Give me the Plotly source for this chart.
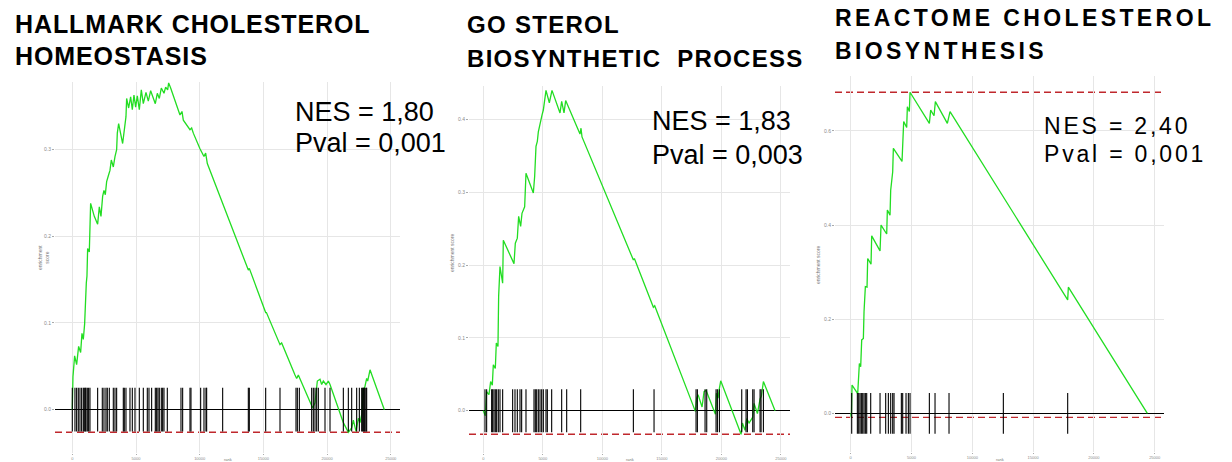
import plotly.graph_objects as go

W, H = 1232, 462

# ---------------- data ----------------
hallmark_hits = [0, 209, 340, 471, 602, 733, 864, 942, 1021, 1073, 1178, 1282, 1387, 1989,
                 2355, 2486, 2643, 2748, 2905, 3219, 3350, 3481, 4004, 4083, 4213, 4527,
                 4711, 4920, 5260, 5574, 5888, 6019, 6228, 6516, 6621, 6726, 6830, 6987,
                 7092, 7197, 7458, 8531, 8662, 9238, 9316, 10075, 10337, 10494, 10546,
                 11803, 13818, 13896, 15179, 16304, 17560, 17665, 17822, 18790, 18921,
                 19052, 19183, 19314, 19837, 20230, 21276, 21669, 21931, 22323, 22533,
                 22716, 22794, 22847, 22925, 22977, 23056, 23108]
hallmark_rank = [0, 52, 183, 340, 497, 654, 759, 864, 968, 1021, 1099, 1151, 1204, 1335, 1387,
                 1439, 1727, 1989, 2120, 2251, 2381, 2486, 2591, 2696, 2853, 2957, 3062, 3219,
                 3350, 3481, 3533, 3638, 3952, 4083, 4213, 4266, 4423, 4580, 4711, 4841, 4972,
                 5103, 5260, 5417, 5574, 5784, 5967, 6150, 6359, 6516, 6673, 6830, 6987, 7197,
                 7328, 7485, 7563, 7720, 8453, 8610, 8715, 9238, 9369, 9500, 10023, 10337,
                 10468, 10599, 13818, 13896, 15179, 15240, 16304, 16435, 17482, 17613, 17743,
                 18005, 18869, 19052, 19235, 19444, 19575, 19706, 19915, 20099, 20230, 21276,
                 21669, 21931, 22062, 22271, 22454, 22585, 22742, 22847, 22977, 23108, 23187,
                 23370, 24495]
hallmark_es = [0.0, 0.038, 0.062, 0.052, 0.073, 0.066, 0.088, 0.081, 0.099, 0.123, 0.146, 0.154,
               0.186, 0.182, 0.202, 0.238, 0.223, 0.214, 0.234, 0.223, 0.246, 0.253, 0.248,
               0.263, 0.271, 0.276, 0.288, 0.280, 0.292, 0.300, 0.319, 0.330, 0.307, 0.321,
               0.338, 0.359, 0.348, 0.361, 0.346, 0.363, 0.349, 0.362, 0.346, 0.369, 0.353,
               0.366, 0.356, 0.368, 0.359, 0.353, 0.365, 0.359, 0.371, 0.365, 0.372, 0.369,
               0.377, 0.371, 0.340, 0.344, 0.334, 0.323, 0.325, 0.319, 0.301, 0.292, 0.296,
               0.284, 0.161, 0.163, 0.112, 0.112, 0.075, 0.077, 0.040, 0.036, 0.040, 0.031,
               0.002, 0.008, 0.033, 0.035, 0.029, 0.033, 0.029, 0.033, 0.029, -0.015, -0.026,
               -0.021, -0.012, -0.025, -0.010, -0.015, -0.004, 0.023, 0.027, 0.036, 0.033,
               0.046, 0.0]

gosterol_hits = [140, 280, 700, 784, 896, 1008, 1120, 1260, 1401, 1625, 2465, 2661, 2857,
                 3081, 3221, 3585, 4258, 4370, 4482, 4622, 4762, 4902, 5042, 5266, 5378,
                 5742, 6582, 7003, 8179, 12605, 14341, 17870, 17982, 18627, 18767, 19551,
                 19663, 19831, 21708, 22072, 22184, 22632, 22744, 23248, 23332, 23528]
gosterol_rank = [0, 168, 280, 476, 616, 756, 840, 1008, 1092, 1232, 1288, 1401, 1625, 1681,
                 2577, 2689, 2857, 2969, 3137, 3249, 3473, 3585, 4202, 4314, 4426, 4538, 4622,
                 4762, 4846, 4930, 5042, 5126, 5266, 5546, 5770, 6442, 6582, 6778, 6918, 8123,
                 8207, 8291, 12605, 12689, 14285, 14397, 17814, 17926, 18038, 18374, 18542,
                 18711, 19103, 19495, 19579, 19719, 19803, 19943, 21652, 21764, 21988, 22128,
                 22324, 22632, 22744, 23024, 23248, 23360, 23528, 24509]
gosterol_es = [0.0, -0.007, 0.026, 0.022, 0.040, 0.035, 0.063, 0.058, 0.093, 0.088, 0.157,
               0.198, 0.175, 0.234, 0.202, 0.230, 0.237, 0.267, 0.253, 0.271, 0.280, 0.326,
               0.299, 0.322, 0.363, 0.370, 0.383, 0.395, 0.399, 0.406, 0.413, 0.422, 0.440,
               0.423, 0.440, 0.409, 0.425, 0.409, 0.426, 0.380, 0.388, 0.376, 0.207, 0.209,
               0.142, 0.144, -0.001, 0.017, 0.022, 0.005, 0.026, 0.028, 0.010, -0.005, 0.024,
               0.017, 0.028, 0.041, -0.0325, -0.017, -0.027, -0.011, -0.017, -0.009, 0.010,
               -0.004, 0.016, 0.020, 0.040, 0.0]

reactome_hits = [82, 548, 658, 767, 877, 987, 1096, 1206, 1316, 1645, 2412, 2878, 3097,
                 3289, 3454, 3563, 4166, 4276, 4550, 4742, 4879, 6469, 6935, 8086, 12554,
                 17844]
reactome_rank = [0, 55, 110, 576, 713, 822, 905, 1042, 1096, 1206, 1343, 1398, 1672, 1727,
                 2412, 2494, 2960, 3015, 3234, 3289, 3454, 3508, 4221, 4275, 4358, 4605, 4660,
                 4824, 4879, 6469, 6578, 6853, 6962, 7949, 8168, 17844, 17899, 24395]
reactome_es = [0.0, -0.0085, 0.060, 0.042, 0.106, 0.099, 0.156, 0.159, 0.216, 0.269, 0.268,
               0.329, 0.317, 0.377, 0.345, 0.400, 0.381, 0.432, 0.421, 0.474, 0.513, 0.563,
               0.535, 0.577, 0.620, 0.607, 0.651, 0.641, 0.682, 0.616, 0.644, 0.632, 0.662,
               0.616, 0.641, 0.241, 0.268, 0.0]

title_lines = [["HALLMARK CHOLESTEROL", "HOMEOSTASIS"],
               ["GO STEROL", "BIOSYNTHETIC\u00a0\u00a0PROCESS"],
               ["REACTOME CHOLESTEROL", "BIOSYNTHESIS"]]
nes_labels = ["NES = 1,80", "NES = 1,83", "NES = 2,40"]
pval_labels = ["Pval = 0,001", "Pval = 0,003", "Pval = 0,001"]
x_tick_vals = [0, 5000, 10000, 15000, 20000, 25000]
y_axis_titles = ["enrichment<br>score", "enrichment score", "enrichment score"]
x_axis_title = "rank"

# ---------------- layout (pixel geometry) ----------------
panels = [
    dict(hits=hallmark_hits, rank=hallmark_rank, es=hallmark_es,
         xpx=(55, 400), ypx=(82, 453), xr=(-1358, 25724), yr=(-0.050, 0.378), dtick=0.1,
         show_max=False,
         title_x=13, title_y=(24, 56), title_size=25, title_ls=0.9,
         nes_x=293, nes_y=(111.7, 143.3), nes_size=27, nes_ls=0,
         ytitle_x=43, ytitle_y=258),
    dict(hits=gosterol_hits, rank=gosterol_rank, es=gosterol_es,
         xpx=(469, 790), ypx=(86, 453.3), xr=(-1202, 25762), yr=(-0.0586, 0.446), dtick=0.1,
         show_max=False,
         title_x=465, title_y=(24.2, 58.3), title_size=24, title_ls=1.3,
         nes_x=650, nes_y=(121, 155), nes_size=27, nes_ls=0,
         ytitle_x=452, ytitle_y=253),
    dict(hits=reactome_hits, rank=reactome_rank, es=reactome_es,
         xpx=(835, 1164), ypx=(76, 452), xr=(-1291, 25765), yr=(-0.082, 0.7165), dtick=0.2,
         show_max=True,
         title_x=833, title_y=(18.3, 50.8), title_size=23, title_ls=3.4,
         nes_x=1042, nes_y=(125.6, 154.3), nes_size=23, nes_ls=2.8,
         ytitle_x=818, ytitle_y=265),
]

GREEN = "#22dd22"
RED = "#c0282d"
GRID = "#e6e6e6"
TXT = "Liberation Sans, Arial, sans-serif"

fig = go.Figure()
annotations = []
shapes = []


def spaced(text, ls, bold=False):
    inner = f'<span style="letter-spacing:{ls}px">{text}</span>' if ls else text
    return f"<b>{inner}</b>" if bold else inner


for i, p in enumerate(panels):
    k = "" if i == 0 else str(i + 1)
    xa, ya = "x" + k, "y" + k
    es_min, es_max = min(p["es"]), max(p["es"])
    half = (es_max - es_min) / 16.0

    tx, ty = [], []
    for r in p["hits"]:
        tx += [r, r, None]
        ty += [-half, half, None]
    fig.add_trace(go.Scatter(x=p["rank"], y=p["es"], mode="lines",
                             line=dict(color=GREEN, width=1.3),
                             xaxis=xa, yaxis=ya, showlegend=False, hoverinfo="skip",
                             cliponaxis=False))
    fig.add_trace(go.Scatter(x=tx, y=ty, mode="lines", line=dict(color="black", width=1.1),
                             xaxis=xa, yaxis=ya, showlegend=False, hoverinfo="skip"))

    shapes.append(dict(type="line", xref=f"{xa} domain", yref=ya, x0=0, x1=1,
                       y0=es_min, y1=es_min, line=dict(color=RED, width=1.4, dash="7px,4px"),
                       layer="below"))
    if p["show_max"]:
        shapes.append(dict(type="line", xref=f"{xa} domain", yref=ya, x0=0, x1=1,
                           y0=es_max, y1=es_max, line=dict(color=RED, width=1.4, dash="7px,4px"),
                           layer="below"))

    xd = [p["xpx"][0] / W, p["xpx"][1] / W]
    yd = [1 - p["ypx"][1] / H, 1 - p["ypx"][0] / H]
    axis_font = dict(size=4, color="#8a8a8a", family=TXT)
    fig.update_layout(**{
        ("xaxis" + k): dict(domain=xd, range=list(p["xr"]), anchor=ya,
                            tickvals=x_tick_vals, ticktext=[str(v) for v in x_tick_vals],
                            showgrid=True, gridcolor=GRID, gridwidth=1, zeroline=False,
                            showline=False, ticks="outside", ticklen=1, tickcolor="#aaaaaa",
                            tickfont=axis_font),
        ("yaxis" + k): dict(domain=yd, range=list(p["yr"]), anchor=xa, dtick=p["dtick"],
                            tickformat=".1f", showgrid=True, gridcolor=GRID, gridwidth=1,
                            zeroline=True, zerolinecolor="black", zerolinewidth=1.4,
                            showline=False, ticks="outside", ticklen=2, tickcolor="#aaaaaa",
                            tickfont=dict(size=5, color="#8a8a8a", family=TXT)),
    })

    for line, yc in zip(title_lines[i], p["title_y"]):
        annotations.append(dict(text=spaced(line, p["title_ls"], bold=True),
                                xref="paper", yref="paper", x=p["title_x"] / W,
                                y=1 - yc / H, xanchor="left", yanchor="middle",
                                showarrow=False,
                                font=dict(family=TXT, size=p["title_size"], color="black")))
    for line, yc in zip([nes_labels[i], pval_labels[i]], p["nes_y"]):
        annotations.append(dict(text=spaced(line, p["nes_ls"]),
                                xref="paper", yref="paper", x=p["nes_x"] / W,
                                y=1 - yc / H, xanchor="left", yanchor="middle",
                                showarrow=False,
                                font=dict(family=TXT, size=p["nes_size"], color="black")))
    annotations.append(dict(text=y_axis_titles[i], xref="paper", yref="paper",
                            x=p["ytitle_x"] / W, y=1 - p["ytitle_y"] / H, textangle=-90,
                            xanchor="center", yanchor="middle", showarrow=False,
                            font=dict(family=TXT, size=5, color="#777777")))
    annotations.append(dict(text=x_axis_title, xref="paper", yref="paper",
                            x=(p["xpx"][0] + p["xpx"][1]) / 2 / W, y=1 - 459 / H,
                            xanchor="center", yanchor="middle", showarrow=False,
                            font=dict(family=TXT, size=4, color="#777777")))

fig.update_layout(width=W, height=H, margin=dict(l=0, r=0, t=0, b=0),
                  paper_bgcolor="white", plot_bgcolor="white",
                  annotations=annotations, shapes=shapes, showlegend=False)

fig.write_html("out.html", config={"displayModeBar": False},
               post_script="document.body.style.margin='0';"
                           "document.body.style.overflow='hidden';")
